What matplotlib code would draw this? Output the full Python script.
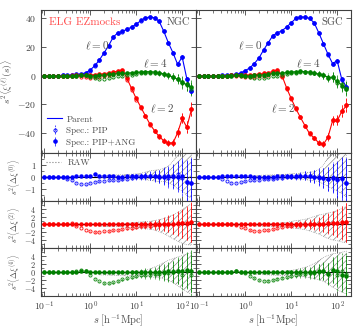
import numpy as np
import matplotlib
matplotlib.use('Agg')
import matplotlib.pyplot as plt
from matplotlib.lines import Line2D
from matplotlib.ticker import LogLocator, MultipleLocator, NullFormatter, FixedLocator

plt.rcParams.update({
    'font.family': 'serif',
    'font.serif': ['cmr10', 'DejaVu Serif'],
    'mathtext.fontset': 'cm',
    'axes.formatter.use_mathtext': True,
    'axes.edgecolor': '0.25',
    'xtick.color': '0.25',
    'ytick.color': '0.25',
    'text.color': '0.3',
    'axes.labelcolor': '0.3',
    'hatch.linewidth': 0.45,
})

# separation bins, h^-1 Mpc
s = [0.100, 0.126, 0.158, 0.200, 0.251, 0.316, 0.398, 0.501, 0.631, 0.794,
     1.00, 1.26, 1.58, 2.00, 2.51, 3.16, 3.98, 5.01, 6.31, 7.94,
     10.0, 12.6, 15.8, 20.0, 25.1, 31.6, 39.8, 50.1, 63.1, 79.4,
     100., 126., 158.]

# parent multipoles s^2 xi_l
xi0_ngc = [0.0, 0.0, 0.1, 0.1, 0.2, 0.3, 0.5, 0.8, 1.2, 2.0,
           4.0, 7.0, 11.0, 16.0, 21.0, 27.0, 30.0, 31.0, 32.5, 34.0,
           36.0, 38.5, 40.5, 41.0, 40.5, 38.0, 31.0, 23.0, 16.0, 8.0,
           13.0, -2.0, -10.0]
xi2_ngc = [0.0, 0.0, 0.0, 0.0, 0.0, 0.0, 0.0, 0.1, 0.1, 0.2,
           0.4, 0.7, 1.0, 1.4, 1.9, 2.5, 3.2, 4.2, -2.0, -9.0,
           -16.0, -22.0, -28.0, -34.0, -38.5, -42.5, -45.5, -47.0, -47.0, -40.0,
           -30.0, -36.0, -24.0]
xi4_ngc = [0.0, 0.0, 0.0, 0.0, 0.0, 0.0, 0.0, 0.0, 0.0, 0.0,
           0.0, 0.1, 0.2, 0.5, 1.0, 1.5, 1.8, 1.6, 1.8, 2.0,
           2.2, 2.5, 2.8, 2.8, 2.5, 2.0, 1.2, 0.3, -1.0, -2.5,
           -4.5, -6.5, -8.5]
xi0_sgc = [0.0, 0.0, 0.0, 0.1, 0.1, 0.2, 0.4, 0.7, 1.1, 1.8,
           3.5, 5.5, 8.5, 12.5, 18.0, 23.0, 28.0, 30.0, 31.5, 34.0,
           37.0, 40.0, 41.0, 41.0, 40.0, 37.0, 30.0, 22.5, 15.0, 8.5,
           10.5, -2.5, -7.5]
xi2_sgc = [0.0, 0.0, 0.0, 0.0, 0.0, 0.0, 0.0, 0.1, 0.1, 0.2,
           0.3, 0.5, 0.8, 1.1, 1.5, 2.0, 3.0, 4.0, 0.0, -8.5,
           -16.0, -23.0, -29.0, -35.0, -40.5, -43.5, -47.0, -48.0, -43.0, -31.5,
           -31.5, -25.0, -21.0]
xi4_sgc = [0.0, 0.0, 0.0, 0.0, 0.0, 0.0, 0.0, 0.0, 0.0, 0.0,
           0.0, 0.1, 0.2, 0.4, 0.8, 1.2, 1.5, 1.5, 1.8, 2.2,
           2.5, 2.8, 3.0, 2.8, 2.5, 2.0, 1.0, 0.0, -0.8, -1.5,
           -4.0, -6.5, -8.0]

# residuals w.r.t. parent, s^2 Delta xi_l
d0_pip_ngc = [0.0, 0.0, 0.0, 0.0, -0.05, -0.2, -0.3, -0.5, -0.6, -0.62,
              -0.5, -0.4, -0.35, -0.32, -0.3, -0.28, -0.25, -0.2, -0.15, -0.1,
              -0.05, 0.0, 0.05, 0.1, 0.1, 0.05, 0.1, -0.1, 0.0, 0.2,
              -0.1, -0.45, -0.5]
d0_ang_ngc = [0.0, 0.0, 0.0, 0.0, 0.0, 0.0, 0.02, 0.05, 0.05, 0.05,
              0.05, 0.2, 0.1, 0.1, 0.05, 0.05, 0.0, 0.0, 0.05, 0.05,
              0.05, 0.1, 0.1, 0.05, 0.05, 0.0, 0.0, 0.05, 0.1, 0.0,
              0.1, -0.4, -0.5]
d2_pip_ngc = [0.0, 0.0, 0.0, 0.0, 0.05, 0.1, 0.25, -0.4, -0.9, -1.4,
              -1.7, -1.9, -1.85, -1.7, -1.6, -1.4, -1.3, -1.15, -1.0, -0.85,
              -0.65, -0.5, -0.4, -0.3, -0.2, -0.1, 0.0, 0.1, 0.2, 0.1,
              0.3, 0.2, 0.5]
d2_ang_ngc = [0.0, 0.0, 0.0, 0.0, 0.0, 0.05, 0.1, 0.15, 0.1, 0.05,
              0.0, 0.0, 0.0, 0.0, 0.05, 0.05, 0.05, 0.05, 0.05, 0.1,
              0.1, 0.1, 0.05, 0.05, 0.1, 0.1, 0.1, 0.2, 0.2, 0.3,
              0.3, 0.4, 0.6]
d4_pip_ngc = [0.0, 0.0, 0.0, 0.0, 0.0, 0.05, 0.1, 0.2, 0.45, 0.2,
              -0.6, -1.6, -2.3, -2.7, -2.8, -2.6, -2.2, -1.8, -1.5, -1.2,
              -0.95, -0.8, -0.7, -0.6, -0.5, -0.4, -0.3, -0.15, 0.2, 0.4,
              -0.6, 0.3, -0.8]
d4_ang_ngc = [0.0, 0.0, 0.0, 0.0, 0.0, 0.0, 0.05, 0.1, 0.3, 0.35,
              0.1, 0.0, 0.0, 0.0, 0.0, 0.0, 0.05, 0.05, 0.05, 0.05,
              0.05, 0.05, 0.05, 0.05, 0.1, 0.1, 0.1, 0.2, 0.1, 0.3,
              0.2, 0.5, 0.3]
d0_pip_sgc = [0.0, 0.0, 0.0, 0.0, -0.05, -0.15, -0.35, -0.5, -0.5, -0.45,
              -0.35, -0.3, -0.28, -0.25, -0.22, -0.2, -0.15, -0.12, -0.1, -0.05,
              0.0, 0.0, 0.05, 0.1, 0.05, 0.0, -0.1, -0.1, -0.2, -0.05,
              -0.3, -0.2, -0.5]
d0_ang_sgc = [0.0, 0.0, 0.0, 0.0, 0.0, 0.05, 0.1, 0.1, 0.05, 0.05,
              0.05, 0.05, 0.0, 0.0, 0.0, 0.0, 0.0, 0.05, 0.05, 0.05,
              0.05, 0.1, 0.1, 0.1, 0.05, 0.0, 0.0, -0.1, -0.15, -0.1,
              -0.2, -0.1, -0.5]
d2_pip_sgc = [0.0, 0.0, 0.0, 0.0, 0.0, 0.05, 0.1, 0.1, -0.2, -0.6,
              -1.0, -1.4, -1.6, -1.6, -1.5, -1.3, -1.1, -0.8, -0.6, -0.45,
              -0.3, -0.2, -0.1, -0.05, 0.0, 0.05, 0.1, 0.2, 0.2, 0.3,
              0.4, 0.4, 0.6]
d2_ang_sgc = [0.0, 0.0, 0.0, 0.0, 0.0, 0.05, 0.05, 0.1, 0.05, 0.05,
              0.0, 0.0, 0.0, 0.05, 0.05, 0.05, 0.05, 0.05, 0.1, 0.1,
              0.1, 0.1, 0.1, 0.1, 0.15, 0.15, 0.2, 0.2, 0.3, 0.3,
              0.4, 0.5, 0.5]
d4_pip_sgc = [0.0, 0.0, 0.0, 0.0, 0.0, 0.05, 0.1, 0.15, 0.25, 0.1,
              -0.3, -0.9, -1.5, -1.9, -2.1, -2.1, -2.0, -1.7, -1.4, -1.15,
              -0.9, -0.7, -0.5, -0.4, -0.3, -0.2, 0.0, 0.3, -0.3, 0.5,
              -0.8, 0.4, -0.5]
d4_ang_sgc = [0.0, 0.0, 0.0, 0.0, 0.0, 0.0, 0.05, 0.1, 0.2, 0.15,
              0.05, 0.0, 0.0, 0.0, 0.0, 0.05, 0.05, 0.05, 0.05, 0.05,
              0.05, 0.1, 0.1, 0.1, 0.1, 0.15, 0.2, 0.3, -0.5, 0.6,
              0.3, -0.6, -1.0]

# errors
err0 = [0.02, 0.02, 0.02, 0.02, 0.03, 0.03, 0.03, 0.04, 0.04, 0.05,
        0.05, 0.06, 0.06, 0.07, 0.08, 0.09, 0.10, 0.12, 0.14, 0.17,
        0.20, 0.24, 0.30, 0.36, 0.45, 0.55, 0.70, 0.85, 1.00, 1.25,
        1.5, 1.8, 2.1]
err2 = [0.05, 0.05, 0.05, 0.06, 0.06, 0.07, 0.08, 0.09, 0.10, 0.11,
        0.12, 0.14, 0.16, 0.18, 0.20, 0.23, 0.27, 0.32, 0.38, 0.45,
        0.55, 0.65, 0.80, 0.95, 1.15, 1.4, 1.7, 2.1, 2.5, 3.0,
        3.6, 4.2, 5.0]
err4 = [0.05, 0.05, 0.06, 0.06, 0.07, 0.08, 0.09, 0.10, 0.11, 0.12,
        0.14, 0.16, 0.18, 0.20, 0.23, 0.27, 0.31, 0.37, 0.44, 0.52,
        0.62, 0.75, 0.90, 1.1, 1.3, 1.6, 1.95, 2.35, 2.8, 3.3,
        3.9, 4.5, 5.2]

# RAW band (centre, half width), from s = 1.58 onwards
raw0_ngc = [0.0, 0.02, 0.03, 0.03, 0.03, 0.03, 0.04, 0.05, 0.05, 0.05, 0.08,
            0.1, 0.1, 0.1, 0.15, 0.2, 0.3, 0.4, 0.5, 0.45, 0.4]
w0_ngc = [0.1, 0.1, 0.11, 0.12, 0.13, 0.14, 0.15, 0.17, 0.2, 0.25, 0.32,
          0.4, 0.45, 0.5, 0.55, 0.7, 1.0, 1.4, 1.7, 2.0, 2.2]
raw2_ngc = [-0.3, -0.3, -0.3, -0.25, -0.2, -0.2, -0.2, -0.2, -0.15, -0.15, -0.15,
            -0.2, -0.2, -0.3, -0.4, -0.5, -0.6, -0.6, -0.5, -0.3, 0.0]
w2_ngc = [0.2, 0.2, 0.25, 0.3, 0.35, 0.4, 0.5, 0.6, 0.7, 0.8, 0.9,
          1.0, 1.2, 1.5, 1.9, 2.4, 3.0, 3.6, 4.2, 4.8, 5.2]
raw4_ngc = [-0.5, -0.5, -0.5, -0.5, -0.5, -0.5, -0.5, -0.45, -0.4, -0.35, -0.3,
            -0.2, 0.0, 0.2, 0.4, 0.5, 0.4, 0.2, 0.0, -0.2, -0.3]
w4_ngc = [0.2, 0.2, 0.25, 0.3, 0.35, 0.4, 0.45, 0.5, 0.6, 0.7, 0.8,
          1.0, 1.3, 1.6, 2.0, 2.5, 3.0, 3.6, 4.2, 4.8, 5.2]
raw0_sgc = [0.0, 0.02, 0.03, 0.03, 0.03, 0.04, 0.05, 0.05, 0.05, 0.05, 0.05,
            0.05, 0.05, 0.05, 0.1, 0.2, 0.4, 0.5, 0.5, 0.5, 0.4]
w0_sgc = [0.1, 0.1, 0.11, 0.12, 0.13, 0.14, 0.15, 0.17, 0.2, 0.22, 0.25,
          0.3, 0.33, 0.38, 0.5, 0.8, 1.2, 1.5, 1.7, 1.9, 2.1]
raw2_sgc = [-0.2, -0.2, -0.2, -0.2, -0.15, -0.1, -0.1, -0.1, -0.05, 0.0, 0.0,
            0.0, 0.0, 0.0, 0.0, -0.2, -0.3, -0.4, -0.3, -0.2, 0.0]
w2_sgc = [0.2, 0.2, 0.25, 0.3, 0.35, 0.4, 0.5, 0.6, 0.8, 1.0, 1.1,
          1.3, 1.6, 2.0, 2.4, 2.8, 3.2, 3.5, 3.8, 4.2, 4.6]
raw4_sgc = [-0.4, -0.4, -0.4, -0.4, -0.4, -0.4, -0.35, -0.3, -0.25, -0.2, -0.1,
            0.0, 0.1, 0.3, 0.5, 0.7, 0.6, 0.4, 0.2, 0.0, -0.1]
w4_sgc = [0.2, 0.2, 0.25, 0.3, 0.35, 0.4, 0.5, 0.6, 0.7, 0.85, 1.0,
          1.2, 1.5, 1.9, 2.4, 3.0, 3.6, 4.2, 4.6, 5.0, 5.4]

colors = ['blue', 'red', 'green']


def setup_ticks(ax):
    ax.set_xscale('log')
    ax.xaxis.set_major_locator(LogLocator(base=10, numticks=10))
    ax.xaxis.set_minor_locator(LogLocator(base=10, subs=np.arange(2, 10), numticks=20))
    ax.xaxis.set_minor_formatter(NullFormatter())
    ax.tick_params(which='both', direction='in', top=True, right=True, labelsize=7)
    ax.tick_params(which='major', length=3.5, width=0.6)
    ax.tick_params(which='minor', length=2, width=0.5)
    ax.tick_params(axis='x', pad=2.5)


def main():
    fig, axes = plt.subplots(4, 2, figsize=(3.6, 3.3), dpi=100, sharex=True, sharey='row',
                             gridspec_kw=dict(height_ratios=[3, 1, 1, 1], hspace=0, wspace=0,
                                              left=0.114, right=0.975, top=0.97, bottom=0.103))
    sa = np.array(s)
    regions = [
        ('NGC', [xi0_ngc, xi2_ngc, xi4_ngc],
         [d0_pip_ngc, d2_pip_ngc, d4_pip_ngc], [d0_ang_ngc, d2_ang_ngc, d4_ang_ngc],
         [(raw0_ngc, w0_ngc), (raw2_ngc, w2_ngc), (raw4_ngc, w4_ngc)]),
        ('SGC', [xi0_sgc, xi2_sgc, xi4_sgc],
         [d0_pip_sgc, d2_pip_sgc, d4_pip_sgc], [d0_ang_sgc, d2_ang_sgc, d4_ang_sgc],
         [(raw0_sgc, w0_sgc), (raw2_sgc, w2_sgc), (raw4_sgc, w4_sgc)]),
    ]
    errs = [err0, err2, err4]

    for col, (name, parents, pips, angs, raws) in enumerate(regions):
        ax = axes[0, col]
        for i in range(3):
            c = colors[i]
            par = np.array(parents[i])
            pip = par + np.array(pips[i])
            ang = par + np.array(angs[i])
            ax.plot(sa, par, '-', color=c, lw=0.8, label='Parent' if i == 0 else None)
            eb = ax.errorbar(sa, pip, yerr=errs[i], fmt='o', ms=2.3, mfc='none', mec=c, mew=0.6,
                             ecolor=c, elinewidth=0.5, capsize=0,
                             label='Spec.: PIP' if i == 0 else None)
            eb[-1][0].set_linestyle('--')
            ax.errorbar(sa, ang, yerr=errs[i], fmt='o', ms=2.3, color=c, elinewidth=0.5,
                        capsize=0, label='Spec.: PIP+ANG' if i == 0 else None)
        ax.set_ylim(-54, 46)
        ax.yaxis.set_major_locator(MultipleLocator(20))
        ax.text(0.96 if col == 0 else 0.95, 0.915, name, transform=ax.transAxes,
                ha='right', va='center', fontsize=7.5)
        if col == 0:
            ax.text(0.05, 0.915, 'ELG EZmocks', transform=ax.transAxes, ha='left',
                    va='center', fontsize=8, color='#ff4d4d')
            ax.text(1.4, 21, r'$\ell=0$', ha='center', va='center', fontsize=8)
            ax.text(26, 8.5, r'$\ell=4$', ha='center', va='center', fontsize=8)
            ax.text(37, -23, r'$\ell=2$', ha='center', va='center', fontsize=8)
            ax.legend(loc='lower left', frameon=False, fontsize=6.5, handlelength=1.6,
                      labelspacing=0.35, borderaxespad=0.3, handletextpad=0.5)
            ax.set_ylabel(r'$s^2\langle\xi^{(\ell)}(s)\rangle$', fontsize=7)
            ax.yaxis.set_label_coords(-0.165, 0.5)
        else:
            ax.text(1.3, 21, r'$\ell=0$', ha='center', va='center', fontsize=8)
            ax.text(23, 8.5, r'$\ell=4$', ha='center', va='center', fontsize=8)
            ax.text(6.8, -23, r'$\ell=2$', ha='center', va='center', fontsize=8)

        for i in range(3):
            ax = axes[i + 1, col]
            c = colors[i]
            ax.axhline(0, color='k', lw=0.8, zorder=1)
            rc = np.array(raws[i][0])
            rw = np.array(raws[i][1])
            ax.fill_between(sa[12:], rc - rw, rc + rw, facecolor='none', edgecolor='0.5',
                            hatch='/////', lw=0.5, ls=':', zorder=2)
            eb = ax.errorbar(sa, pips[i], yerr=errs[i], fmt='o', ms=2.2, mfc='none', mec=c,
                             mew=0.7, ecolor=c, elinewidth=0.5, capsize=0, alpha=0.85, zorder=3)
            eb[-1][0].set_linestyle('--')
            ax.errorbar(sa, angs[i], yerr=errs[i], fmt='o', ms=2.2, color=c, elinewidth=0.5,
                        capsize=0, zorder=4)
            if i == 0:
                ax.set_ylim(-2, 2)
                ax.yaxis.set_major_locator(FixedLocator([-1, 0, 1]))
                ax.yaxis.set_minor_locator(MultipleLocator(0.5))
            else:
                ax.set_ylim(-6, 6)
                ax.yaxis.set_major_locator(FixedLocator([-4, -2, 0, 2, 4]))
                ax.yaxis.set_minor_locator(MultipleLocator(1))
            if col == 0:
                ax.set_ylabel(r'$s^2\langle\Delta\xi^{(%d)}\rangle$' % (2 * i), fontsize=6)
                ax.yaxis.set_label_coords(-0.125, 0.5)
                if i == 0:
                    h = [Line2D([], [], color='0.5', ls=':', lw=0.8)]
                    ax.legend(h, ['RAW'], loc='upper left', frameon=False, fontsize=6.5,
                              handlelength=1.6, borderaxespad=0.2)

    for ax in axes.flat:
        setup_ticks(ax)
    for ax in axes[1:, :].flat:
        ax.tick_params(axis='y', labelsize=6)
    axes[0, 0].set_xlim(0.085, 200)
    for col in range(2):
        axes[3, col].set_xlabel(r'$s\ [\mathrm{h^{-1}Mpc}]$', fontsize=7.5)
        axes[3, col].xaxis.set_label_coords(0.5, -0.36)

    plt.savefig('out.png', dpi=100)


if __name__ == "__main__":
    main()
